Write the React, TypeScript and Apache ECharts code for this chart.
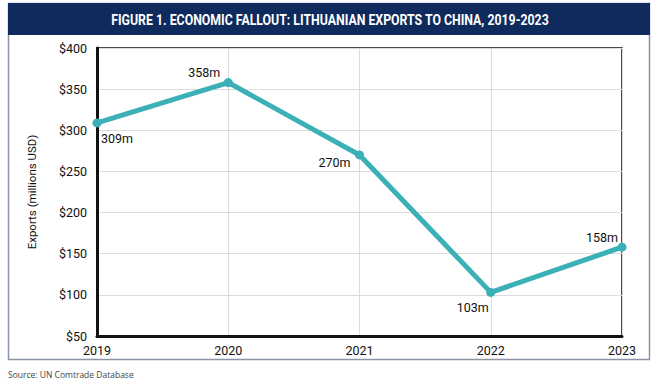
import React, { useEffect, useRef } from "react";
import * as echarts from "echarts";

const years = ["2019", "2020", "2021", "2022", "2023"];
const exportsM = [309, 358, 270, 103, 158];
const labelPos: [number, number][] = [
  [20, 16],
  [-24, -10],
  [-25, 8],
  [-18, 15],
  [-20, -10],
];
const titleText = "FIGURE 1. ECONOMIC FALLOUT: LITHUANIAN EXPORTS TO CHINA, 2019-2023";
const sourceText = "Source: UN Comtrade Database";
const yName = "Exports (millions USD)";

const FONT = "Roboto, 'Liberation Sans', sans-serif";

export default function App() {
  const ref = useRef<HTMLDivElement>(null);
  useEffect(() => {
    if (!ref.current) return;
    const chart = echarts.init(ref.current, undefined, { renderer: "svg" });
    chart.setOption({
      animation: false,
      backgroundColor: "#fff",
      textStyle: { fontFamily: FONT },
      grid: {
        left: 97,
        right: 36,
        top: 48,
        bottom: 47,
        show: true,
        borderColor: "#111",
        borderWidth: 1.5,
        backgroundColor: "transparent",
      },
      graphic: [
        {
          type: "rect",
          shape: { x: 8.5, y: 3.5, width: 641, height: 356 },
          style: { fill: "none", stroke: "#8a94a6", lineWidth: 1.5 },
          z: 0,
        },
        {
          type: "rect",
          shape: { x: 8, y: 3, width: 642, height: 32 },
          style: { fill: "#0f2a5c" },
          z: 1,
        },
        {
          type: "text",
          x: 330,
          y: 20,
          scaleX: 0.88,
          style: {
            text: titleText,
            fill: "#fff",
            font: `bold 14px ${FONT}`,
            align: "center",
            verticalAlign: "middle",
          },
          z: 2,
        },
        {
          type: "text",
          x: 8,
          y: 374,
          style: {
            text: sourceText,
            fill: "#444",
            font: `8.5px 'Open Sans', 'DejaVu Sans', sans-serif`,
            align: "left",
            verticalAlign: "middle",
          },
        },
      ],
      xAxis: {
        type: "category",
        data: years,
        boundaryGap: false,
        axisLine: { lineStyle: { color: "#111", width: 3 } },
        axisTick: { show: false },
        axisLabel: { color: "#111", fontSize: 12.5, margin: 8, fontFamily: FONT },
        splitLine: { show: true, lineStyle: { color: "#dcdcdc", width: 1 } },
      },
      yAxis: {
        type: "value",
        min: 50,
        max: 400,
        interval: 50,
        name: yName,
        nameLocation: "middle",
        nameGap: 59,
        nameTextStyle: { color: "#111", fontSize: 11.5, fontFamily: FONT },
        axisLine: { show: true, lineStyle: { color: "#111", width: 3 } },
        axisTick: { show: false },
        axisLabel: {
          color: "#111",
          fontSize: 12.5,
          margin: 10,
          fontFamily: FONT,
          formatter: (v: number) => "$" + v,
        },
        splitLine: { show: true, lineStyle: { color: "#dcdcdc", width: 1 } },
      },
      series: [
        {
          type: "line",
          data: exportsM.map((v, i) => ({
            value: v,
            label: {
              show: true,
              position: "inside",
              offset: labelPos[i],
              formatter: v + "m",
              color: "#111",
              fontSize: 12.5,
              fontFamily: FONT,
            },
          })),
          lineStyle: { color: "#3bb0b6", width: 5 },
          itemStyle: { color: "#3bb0b6" },
          symbol: "circle",
          symbolSize: 9,
          showSymbol: true,
          clip: false,
        },
      ],
    });
    return () => chart.dispose();
  }, []);
  return (
    <div
      ref={ref}
      style={{ position: "fixed", left: 0, top: 0, width: 658, height: 383 }}
    />
  );
}
